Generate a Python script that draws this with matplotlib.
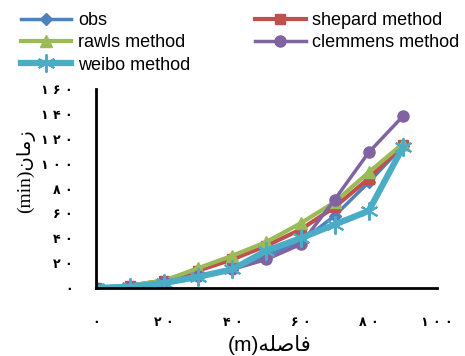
import matplotlib.pyplot as plt
import numpy as np

# distance (m) and time (min)
dist = [0, 10, 20, 30, 40, 50, 60, 70, 80, 90]
obs = [0, 1, 5, 10, 15, 26, 37, 58, 85, 114]
shepard = [0, 2, 6, 14, 23, 34, 47, 65, 88, 115]
rawls = [0, 2, 6, 16, 26, 37, 52, 69, 93, 116]
clemmens = [0, 1, 5, 10, 15, 23, 35, 71, 109, 138]
weibo = [0, 1, 4, 9, 15, 30, 40, 51, 62, 113]

xticks = [0, 20, 40, 60, 80, 100]
yticks = [0, 20, 40, 60, 80, 100, 120, 140, 160]

fa_digits = "۰۱۲۳۴۵۶۷۸۹"


def fa(n):
    return " ".join(fa_digits[int(c)] for c in str(n))


fig = plt.figure(figsize=(4.65, 3.56), dpi=100)
ax = fig.add_axes([0.2065, 0.191, 0.733, 0.559])

l1, = ax.plot(dist, obs, color="#4F81BD", lw=2.5, marker="D", ms=6, label="obs")
l2, = ax.plot(dist, shepard, color="#C0504D", lw=3, marker="s", ms=7, label="shepard method")
l3, = ax.plot(dist, rawls, color="#9BBB59", lw=3, marker="^", ms=8, label="rawls method")
l4, = ax.plot(dist, clemmens, color="#8064A2", lw=2.5, marker="o", ms=8, label="clemmens method")
l5, = ax.plot(dist, weibo, color="#4BACC6", lw=4.5, marker=(6, 2, 0), ms=13,
              mew=1.5, label="weibo method")

ax.set_xlim(0, 100)
ax.set_ylim(0, 160)
ax.set_xticks(xticks)
ax.set_xticklabels([fa(t) for t in xticks], fontsize=9, fontweight="bold")
ax.set_yticks(yticks)
ax.set_yticklabels([fa(t) for t in yticks], fontsize=9, fontweight="bold")
ax.tick_params(axis="x", length=0, pad=20)
ax.tick_params(axis="y", length=0, pad=17)
for s in ["top", "right"]:
    ax.spines[s].set_visible(False)
for s in ["left", "bottom"]:
    ax.spines[s].set_linewidth(2)
    ax.spines[s].set_color("black")

# Persian labels written in shaped visual order
xlab = "(m)" + "\uFEEA\uFEE0\uFEBB\uFE8E\uFED3"
ylab = "(min)" + "\uFEE5\uFE8E\uFEE3\uFEAF"
fig.text(0.58, 0.03, xlab, ha="center", va="center", fontsize=15,
         family=["Liberation Sans", "DejaVu Sans"])
fig.text(0.055, 0.52, ylab, ha="center", va="center", rotation=90, fontsize=14,
         family=["Liberation Serif", "DejaVu Sans"])

fig.legend(handles=[l1, l3, l5, l2, l4], ncol=2, loc="upper left",
           bbox_to_anchor=(0.01, 1.012), frameon=False,
           handlelength=2.8, handletextpad=0.35, columnspacing=3.6,
           labelspacing=0.3, prop={"family": "Liberation Sans", "size": 13})

fig.savefig("out.png", dpi=100)
